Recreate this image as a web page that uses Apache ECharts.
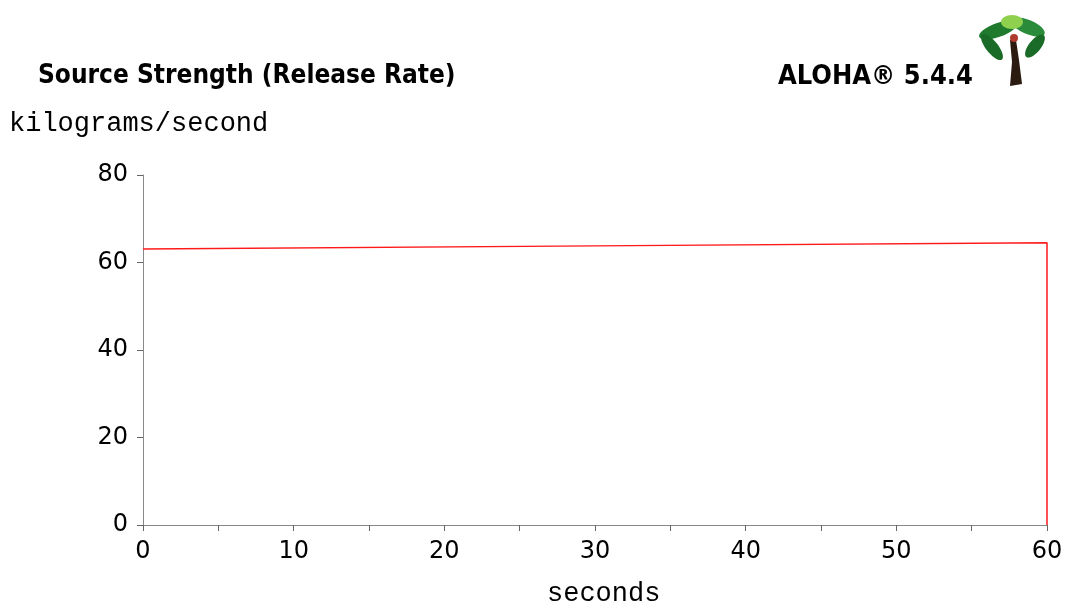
<!DOCTYPE html>
<html><head><meta charset="utf-8">
<script src="https://cdn.jsdelivr.net/npm/echarts@6/dist/echarts.min.js"></script>
<style>html,body{margin:0;padding:0;background:#fff}#c{width:1069px;height:603px}</style>
</head><body><div id="c"></div>
<script>
const titleText = 'Source Strength (Release Rate)';
const brandText = 'ALOHA® 5.4.4';
const yAxisName = 'kilograms/second';
const xAxisName = 'seconds';
const timeSeconds = [0, 30, 60, 60];
const releaseRate = [63.1, 63.8, 64.5, 0];

const chart = echarts.init(document.getElementById('c'));
const tickFont = {fontFamily: 'DejaVu Sans', fontSize: 24, color: '#000'};
function leaf(x, y, rx, ry, rot, fill) {
  return {type: 'ellipse', x: x, y: y, rotation: rot, shape: {cx: 0, cy: 0, rx: rx, ry: ry}, style: {fill: fill}};
}
chart.setOption({
  animation: false,
  backgroundColor: '#fff',
  grid: {left: 143, right: 22, top: 175, bottom: 78},
  xAxis: {
    type: 'value', min: 0, max: 60, interval: 10,
    axisLine: {lineStyle: {color: '#888', width: 1}},
    axisTick: {length: 6, lineStyle: {color: '#666'}},
    minorTick: {show: true, splitNumber: 2, length: 6, lineStyle: {color: '#666'}},
    splitLine: {show: false},
    axisLabel: Object.assign({margin: 15}, tickFont)
  },
  yAxis: {
    type: 'value', min: 0, max: 80, interval: 20,
    axisLine: {show: true, lineStyle: {color: '#888', width: 1}},
    axisTick: {show: true, length: 6, lineStyle: {color: '#666'}},
    splitLine: {show: false},
    axisLabel: Object.assign({margin: 15}, tickFont)
  },
  series: [{
    type: 'line',
    data: timeSeconds.map((t, i) => [t, releaseRate[i]]),
    showSymbol: false,
    lineStyle: {color: '#ff1a1a', width: 1.5},
    itemStyle: {color: '#ff1a1a'}
  }],
  graphic: [
    {type: 'text', left: 38, top: 63, style: {text: titleText, font: 'bold 26px "DejaVu Sans Condensed"', fill: '#000'}},
    {type: 'text', left: 778, top: 63, style: {text: brandText, font: 'bold 27px "DejaVu Sans Condensed"', fill: '#000'}},
    {type: 'text', left: 9, top: 110, style: {text: yAxisName, font: '27px "Liberation Mono"', fill: '#000'}},
    {type: 'text', left: 547, top: 580, style: {text: xAxisName, font: '27px "Liberation Mono"', fill: '#000'}},
    // palm tree decoration
    {type: 'polygon', shape: {points: [[1010,40],[1016,40],[1019,60],[1022,84],[1010,86],[1012,62]]}, style: {fill: '#2a1a10'}},
    leaf(998, 30, 20, 7, 0.35, '#1f7a2e'),
    leaf(1028, 27, 18, 7, -0.4, '#2a8c3a'),
    leaf(992, 47, 16, 6, -0.9, '#1a6b28'),
    leaf(1035, 46, 14, 6, 0.9, '#1a6b28'),
    leaf(1012, 22, 11, 7, 0, '#8fd14f'),
    {type: 'circle', shape: {cx: 1014, cy: 38, r: 4}, style: {fill: '#b03a2e'}}
  ]
});
</script></body></html>
